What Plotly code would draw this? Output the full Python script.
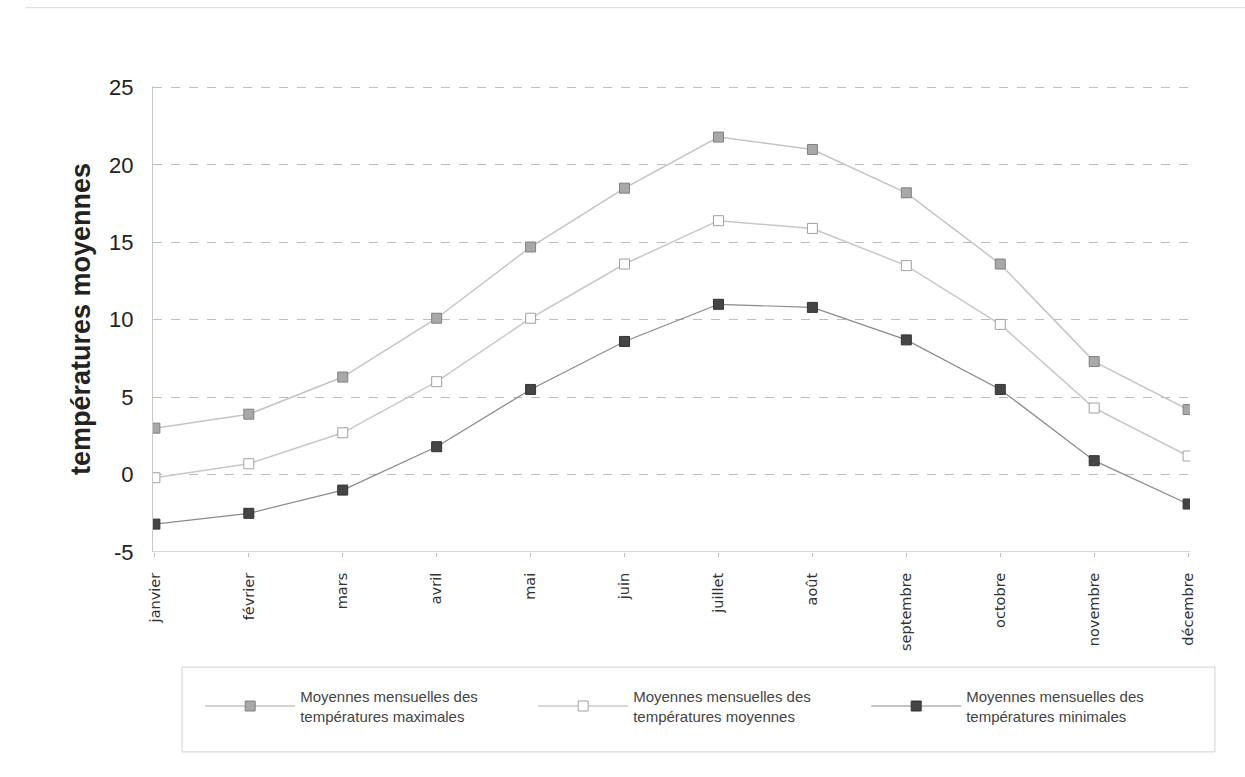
import plotly.graph_objects as go

mois = ["janvier", "février", "mars", "avril", "mai", "juin", "juillet",
        "août", "septembre", "octobre", "novembre", "décembre"]

t_max = [3.0, 3.9, 6.3, 10.1, 14.7, 18.5, 21.8, 21.0, 18.2, 13.6, 7.3, 4.2]
t_moy = [-0.2, 0.7, 2.7, 6.0, 10.1, 13.6, 16.4, 15.9, 13.5, 9.7, 4.3, 1.2]
t_min = [-3.2, -2.5, -1.0, 1.8, 5.5, 8.6, 11.0, 10.8, 8.7, 5.5, 0.9, -1.9]

y_ticks = [-5, 0, 5, 10, 15, 20, 25]
y_labels = ["-5", "0", "5", "10", "15", "20", "25"]

noms = [
    "Moyennes mensuelles des<br>températures maximales",
    "Moyennes mensuelles des<br>températures moyennes",
    "Moyennes mensuelles des<br>températures minimales",
]

fig = go.Figure()

fig.add_trace(go.Scatter(
    x=mois, y=t_max, name=noms[0], mode="lines+markers",
    line=dict(color="#c4c4c4", width=1.5),
    marker=dict(symbol="square", size=10, color="#a8a8a8",
                line=dict(color="#808080", width=1)),
))
fig.add_trace(go.Scatter(
    x=mois, y=t_moy, name=noms[1], mode="lines+markers",
    line=dict(color="#c8c8c8", width=1.5),
    marker=dict(symbol="square", size=10, color="white",
                line=dict(color="#a0a0a0", width=1)),
))
fig.add_trace(go.Scatter(
    x=mois, y=t_min, name=noms[2], mode="lines+markers",
    line=dict(color="#8a8a8a", width=1.2),
    marker=dict(symbol="square", size=10, color="#454545",
                line=dict(color="#333333", width=1)),
))

fig.update_layout(
    width=1245, height=777,
    margin=dict(l=153, r=55, t=86, b=225),
    paper_bgcolor="white", plot_bgcolor="white",
    font=dict(family="Arial, Liberation Sans, sans-serif", color="#222"),
    showlegend=True,
    legend=dict(
        orientation="h", x=0.0455, xanchor="left", y=-0.3305, yanchor="middle",
        borderwidth=0, bgcolor="rgba(0,0,0,0)",
        font=dict(size=15, color="#444"),
        entrywidth=228, entrywidthmode="pixels",
        itemwidth=90,
    ),
    xaxis=dict(
        type="category", range=[-0.02, 11.02],
        tickangle=-90, tickfont=dict(size=14.5, color="#333",
                                     family="DejaVu Sans, sans-serif"),
        showgrid=False, showline=False, zeroline=False,
        ticks="outside", ticklen=4, tickcolor="#bbb", ticklabelstandoff=10,
    ),
    yaxis=dict(
        range=[-5, 25.1], tickvals=y_ticks, ticktext=y_labels,
        tickfont=dict(size=22, color="#222"),
        showgrid=True, gridcolor="#bdbdbd", griddash="dash", gridwidth=1,
        zeroline=False, showline=True, linecolor="#c8c8c8", linewidth=1,
        ticks="", ticklabelstandoff=14,
        title=dict(text="<b>températures moyennes</b>",
                   font=dict(size=27, color="#222"), standoff=10),
    ),
)

# solid baseline at the bottom of the plot area
fig.add_shape(type="line", xref="paper", yref="y", x0=0, x1=1, y0=-5, y1=-5,
              line=dict(color="#c8c8c8", width=1.5))
# frame around the legend
fig.add_shape(type="rect", xref="paper", yref="paper",
              x0=0.028, x1=1.024, y0=-0.429, y1=-0.247,
              line=dict(color="#d0d0d0", width=1))
# thin rule along the top edge of the page
fig.add_shape(type="line", xref="paper", yref="paper", x0=-0.123, x1=1.053,
              y0=1.168, y1=1.168, line=dict(color="#d8d8d8", width=1))

fig.write_html("out.html")
